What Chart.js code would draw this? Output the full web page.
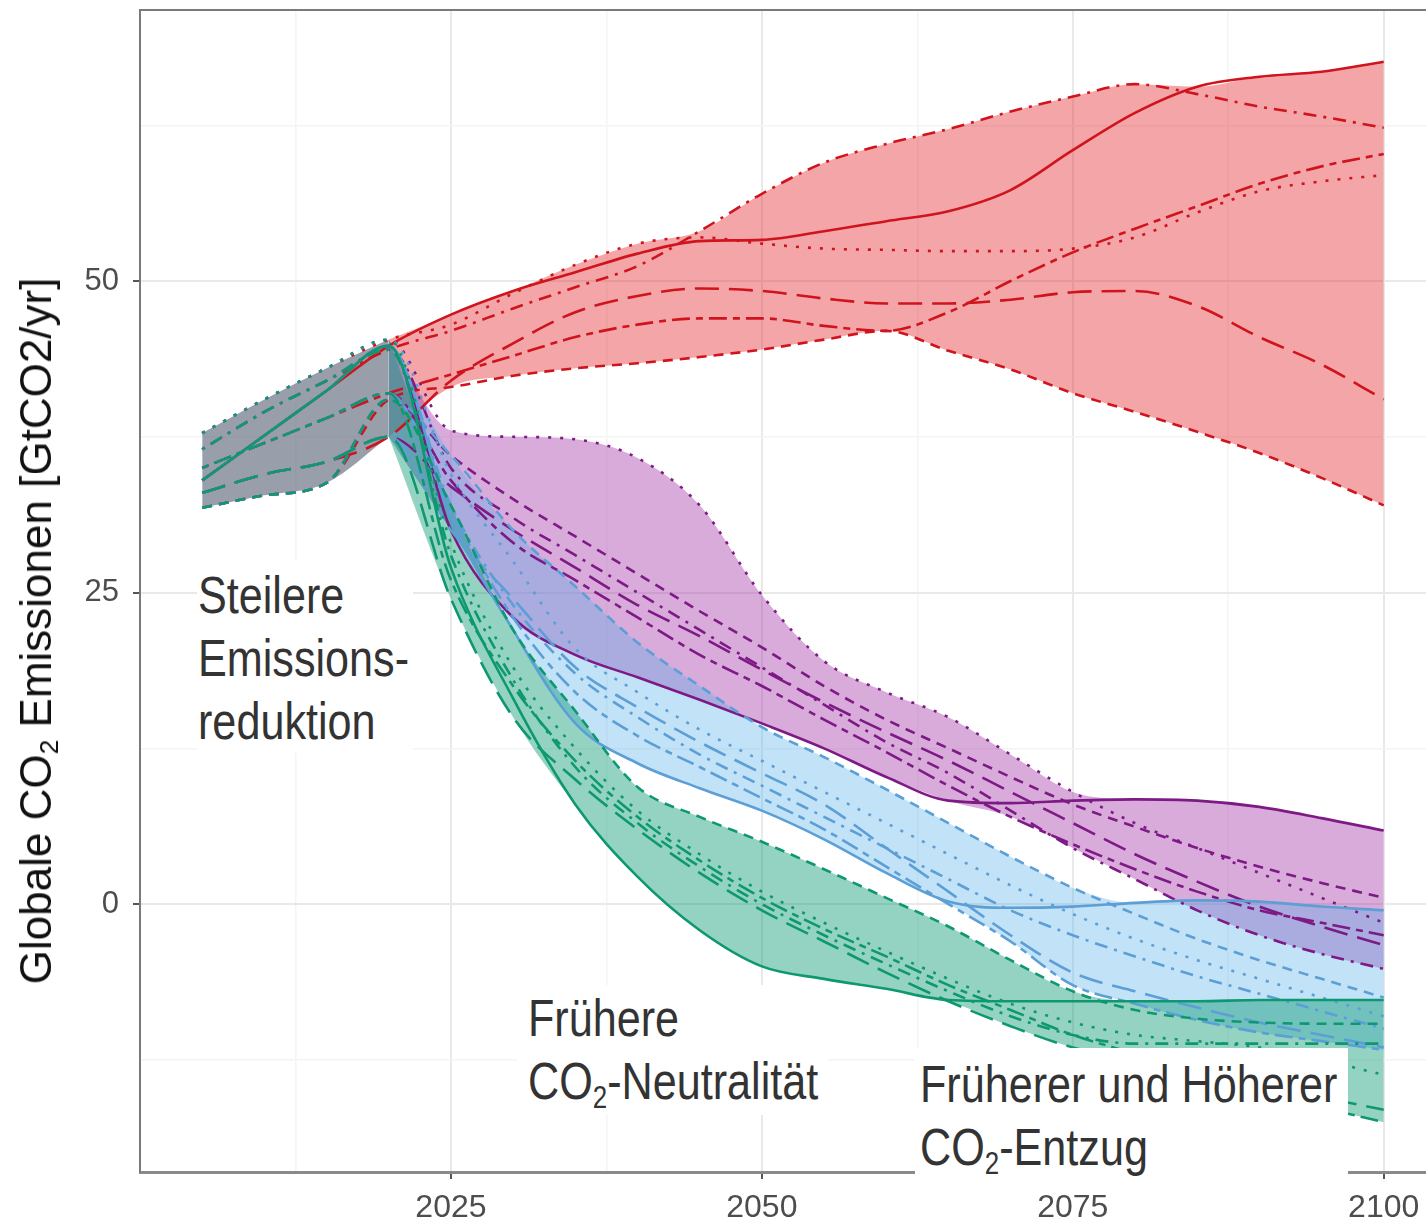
<!DOCTYPE html>
<html>
<head>
<meta charset="utf-8">
<script src="https://cdn.jsdelivr.net/npm/chart.js"></script>
<style>
  body { margin: 0; background: #fff; }
  #wrap { position: relative; width: 1426px; height: 1222px; overflow: hidden; }
  .ylab {
    position: absolute; left: 36px; top: 631px;
    transform: translate(-50%, -50%) rotate(-90deg);
    white-space: nowrap; font: 44px "Liberation Sans", Arial, sans-serif; color: #111;
  }
  .ylab sub, .note sub { font-size: 60%; vertical-align: baseline; position: relative; top: 0.28em; line-height: 0; }
  .note {
    position: absolute; background: #fff; color: #333; white-space: nowrap; overflow: hidden;
    font-family: "Liberation Sans", Arial, sans-serif;
    font-size: 52px; line-height: 63px; box-sizing: border-box;
  }
  .note span { display: inline-block; transform: scaleX(0.83); transform-origin: 0 0; }
</style>
</head>
<body>
<div id="wrap">
  <canvas id="grafico" width="1426" height="1222"></canvas>
  <div class="ylab">Globale CO<sub>2</sub> Emissionen [GtCO2/yr]</div>
  <div class="note" style="left:197px;top:560px;width:216px;height:193px;padding:4px 0 0 1px"><span>Steilere<br>Emissions-<br>reduktion</span></div>
  <div class="note" style="left:517px;top:985px;width:311px;height:130px;padding:2px 0 0 11px"><span>Frühere<br>CO<sub>2</sub>-Neutralität</span></div>
  <div class="note" style="left:915px;top:1048px;width:433px;height:132px;padding:5px 0 0 5px"><span>Früherer und Höherer<br>CO<sub>2</sub>-Entzug</span></div>
</div>
<script>
// anos
const anosHist = [2005, 2010, 2015, 2020];
const anosCenario = [2025, 2030, 2035, 2040, 2045, 2050, 2055, 2060, 2065, 2070, 2075, 2080, 2085, 2090, 2095, 2100];

const xTicks = [2012.5, 2025, 2037.5, 2050, 2062.5, 2075, 2087.5, 2100];
const yTicks = [-12.5, 0, 12.5, 25, 37.5, 50, 62.5];

// historico por modelo (2005-2020)
const hist = {
  solid:    [34.0, 37.6, 41.2, 44.8],
  dashed:   [31.8, 32.8, 33.8, 40.5],
  dotted:   [37.8, 40.5, 43.0, 45.3],
  dotdash:  [36.5, 39.5, 42.0, 44.5],
  longdash: [33.0, 34.5, 35.5, 37.5],
  twodash:  [35.0, 37.0, 39.0, 41.0]
};

// cenarios (2025-2100)
const vermelho = {
  solid:    [47.3, 49.2, 50.7, 52.2, 53.2, 53.3, 54.0, 54.8, 55.6, 57.3, 60.5, 63.5, 65.6, 66.4, 66.8, 67.6],
  dotted:   [46.5, 49.0, 51.3, 53.0, 53.5, 53.0, 52.6, 52.5, 52.4, 52.4, 52.6, 53.5, 55.5, 57.2, 58.0, 58.5],
  dotdash:  [46.0, 47.8, 49.5, 51.2, 54.0, 57.0, 59.5, 61.0, 62.2, 63.6, 64.8, 65.8, 65.0, 64.0, 63.2, 62.3],
  longdash: [42.0, 45.0, 47.5, 48.8, 49.4, 49.2, 48.6, 48.2, 48.2, 48.5, 49.1, 49.2, 48.0, 45.5, 43.3, 40.5],
  twodash:  [42.5, 44.0, 45.5, 46.5, 47.0, 47.0, 46.4, 46.0, 47.5, 50.0, 52.3, 54.2, 56.0, 57.8, 59.2, 60.2],
  dashed:   [41.5, 42.4, 43.0, 43.4, 43.9, 44.5, 45.3, 46.0, 44.4, 42.9, 41.0, 39.5, 37.9, 36.2, 34.2, 32.0]
};
const roxo = {
  solid:    [30.0, 23.0, 20.0, 18.2, 16.4, 14.5, 12.5, 10.2, 8.3, 8.1, 8.3, 8.4, 8.3, 7.8, 6.9, 5.9],
  dotted:   [38.0, 37.5, 37.3, 35.8, 32.0, 24.8, 19.5, 17.0, 15.0, 12.0, 9.0, 6.5, 4.5, 2.5, 0.5, -1.5],
  dashed:   [36.0, 32.5, 29.5, 26.5, 23.5, 20.6, 17.5, 14.8, 12.5, 10.2, 8.0, 6.2, 4.5, 3.0, 1.7, 0.5],
  dotdash:  [35.0, 31.0, 28.0, 25.0, 22.0, 19.0, 16.0, 13.0, 10.5, 7.5, 4.5, 2.0, -0.5, -2.5, -4.0, -5.2],
  longdash: [33.5, 30.0, 27.0, 24.0, 21.5, 18.8, 16.2, 13.8, 11.5, 9.0, 6.5, 4.0, 1.8, -0.2, -1.8, -3.3],
  twodash:  [34.0, 29.0, 26.0, 23.0, 20.0, 17.5, 14.8, 12.2, 9.5, 7.0, 4.8, 2.8, 1.0, -0.5, -1.5, -2.5]
};
const azul = {
  solid:    [31.0, 22.0, 14.5, 11.3, 9.3, 7.5, 5.2, 2.5, 0.2, -0.3, -0.2, 0.1, 0.3, 0.2, -0.2, -0.5],
  dashed:   [36.0, 30.0, 25.5, 21.0, 17.5, 14.2, 11.8, 9.2, 6.5, 3.8, 1.3, -0.8, -2.8, -4.5, -6.0, -7.5],
  dotted:   [34.5, 27.5, 20.5, 17.0, 14.0, 11.5, 9.0, 6.5, 4.0, 1.5, -0.8, -2.8, -4.5, -6.0, -7.5, -9.0],
  dotdash:  [32.0, 24.0, 18.5, 15.0, 12.0, 9.5, 7.0, 4.5, 2.0, -0.5, -2.5, -4.2, -5.8, -7.2, -8.6, -10.0],
  longdash: [30.0, 24.5, 19.0, 15.8, 13.0, 10.5, 8.0, 4.5, 1.0, -2.5, -5.5, -7.0, -8.3, -9.5, -10.5, -11.5],
  twodash:  [31.5, 23.0, 17.0, 13.5, 11.0, 8.5, 6.0, 3.0, 0.0, -3.0, -6.5, -8.0, -9.3, -10.3, -11.0, -11.7]
};
const verde = {
  solid:    [27.0, 16.5, 8.0, 2.2, -2.1, -5.0, -6.0, -6.8, -7.7, -7.8, -7.8, -7.8, -7.8, -7.7, -7.7, -7.7],
  dashed:   [32.0, 22.0, 15.5, 9.4, 7.0, 5.0, 2.8, 0.5, -1.8, -4.5, -7.0, -8.5, -9.2, -9.5, -9.6, -9.6],
  dotted:   [29.0, 19.0, 12.5, 7.5, 4.0, 1.0, -1.5, -3.8, -6.0, -8.0, -9.5, -10.5, -11.0, -11.5, -12.5, -13.7],
  dotdash:  [28.0, 18.0, 11.0, 6.5, 3.0, 0.0, -2.5, -4.8, -7.0, -9.0, -10.5, -11.2, -11.2, -11.2, -11.2, -11.2],
  longdash: [24.5, 15.0, 10.0, 6.0, 2.5, -0.5, -3.0, -5.5, -7.8, -9.8, -11.5, -12.5, -13.5, -14.5, -15.5, -16.5],
  twodash:  [26.0, 17.5, 11.5, 7.0, 3.5, 0.5, -2.0, -4.2, -6.5, -8.5, -10.5, -12.0, -13.5, -15.0, -16.3, -17.5]
};

const tracos = {
  solid: [],
  dashed: [10, 7],
  dotted: [3, 9],
  dotdash: [3, 7, 13, 7],
  longdash: [24, 10],
  twodash: [7, 6, 18, 6]
};

// ordem: o primeiro fica por cima
const grupos = [
  { dados: verde,    linha: '#0e9870', fundo: 'rgba(0,150,110,0.42)' },
  { dados: azul,     linha: '#5b9fd6', fundo: 'rgba(86,175,233,0.36)' },
  { dados: roxo,     linha: '#7d1a85', fundo: 'rgba(165,55,170,0.42)' },
  { dados: vermelho, linha: '#d0141e', fundo: 'rgba(228,30,34,0.40)' }
];

const anos = anosHist.concat(anosCenario);

function serie(modelo, valores) {
  const v = hist[modelo].concat(valores);
  return anos.map((a, i) => ({ x: a, y: v[i] }));
}

function faixa(todas, inicio, fim) {
  const idx = anos.map((a, i) => i).filter(i => anos[i] >= inicio && anos[i] <= fim);
  return {
    minimo: idx.map(i => ({ x: anos[i], y: Math.min(...todas.map(s => s[i])) })),
    maximo: idx.map(i => ({ x: anos[i], y: Math.max(...todas.map(s => s[i])) }))
  };
}

const datasets = [];
// linhas
grupos.forEach(g => {
  Object.keys(g.dados).forEach(m => {
    datasets.push({
      data: serie(m, g.dados[m]),
      borderColor: g.linha,
      borderWidth: 2.6,
      borderDash: tracos[m],
      fill: false,
      pointRadius: 0
    });
  });
});
// faixas dos cenarios (2020-2100)
grupos.forEach(g => {
  const f = faixa(Object.keys(g.dados).map(m => hist[m].concat(g.dados[m])), 2020, 2100);
  datasets.push({ data: f.minimo, borderWidth: 0, fill: false, pointRadius: 0 });
  datasets.push({ data: f.maximo, borderWidth: 0, fill: '-1', backgroundColor: g.fundo, pointRadius: 0 });
});
// faixa historica (2005-2020)
const fh = faixa(Object.keys(hist).map(m => hist[m].concat(verde[m])), 2005, 2020);
datasets.push({ data: fh.minimo, borderWidth: 0, fill: false, pointRadius: 0 });
datasets.push({ data: fh.maximo, borderWidth: 0, fill: '-1', backgroundColor: 'rgba(118,124,142,0.74)', pointRadius: 0 });

const bordaTopo = {
  id: 'bordaTopo',
  afterDraw(chart) {
    const { ctx, chartArea } = chart;
    ctx.save();
    ctx.strokeStyle = '#7a7a7a';
    ctx.lineWidth = 2;
    ctx.beginPath();
    ctx.moveTo(chartArea.left, chartArea.top);
    ctx.lineTo(chartArea.right, chartArea.top);
    ctx.stroke();
    ctx.restore();
  }
};

const major = v => Math.abs(v % 25) < 0.001;

new Chart(document.getElementById('grafico'), {
  type: 'line',
  data: { datasets },
  options: {
    responsive: false,
    animation: false,
    layout: { padding: { top: 10, right: 0, left: 0, bottom: 0 } },
    elements: { line: { cubicInterpolationMode: 'monotone' } },
    plugins: {
      legend: { display: false },
      tooltip: { enabled: false },
      filler: { drawTime: 'beforeDatasetsDraw' }
    },
    scales: {
      x: {
        type: 'linear',
        min: 2000,
        max: 2103.4,
        afterBuildTicks: s => { s.ticks = xTicks.map(v => ({ value: v })); },
        afterFit: s => { s.height = 50; s.paddingLeft = 0; s.paddingRight = 0; },
        ticks: {
          callback: v => major(v) ? String(v) : '',
          font: { family: 'Liberation Sans', size: 32 },
          color: '#4d4d4d',
          padding: 10,
          maxRotation: 0,
          autoSkip: false
        },
        grid: {
          color: c => c.tick && major(c.tick.value) ? '#e9e9e9' : '#f4f4f4',
          lineWidth: c => c.tick && major(c.tick.value) ? 2 : 1.5,
          tickColor: c => c.tick && major(c.tick.value) ? '#555' : 'rgba(0,0,0,0)',
          tickLength: 7
        },
        border: { color: '#8a8a8a', width: 3 }
      },
      y: {
        min: -21.5,
        max: 71.75,
        afterBuildTicks: s => { s.ticks = yTicks.map(v => ({ value: v })); },
        afterFit: s => { s.width = 140; s.paddingTop = 0; s.paddingBottom = 0; },
        ticks: {
          callback: v => major(v) ? String(v) : '',
          font: { family: 'Liberation Sans', size: 31 },
          color: '#4d4d4d',
          padding: 14
        },
        grid: {
          color: c => c.tick && major(c.tick.value) ? '#e9e9e9' : '#f4f4f4',
          lineWidth: c => c.tick && major(c.tick.value) ? 2 : 1.5,
          tickColor: c => c.tick && major(c.tick.value) ? '#555' : 'rgba(0,0,0,0)',
          tickLength: 7
        },
        border: { color: '#7a7a7a', width: 2 }
      }
    }
  },
  plugins: [bordaTopo]
});
</script>
</body>
</html>
